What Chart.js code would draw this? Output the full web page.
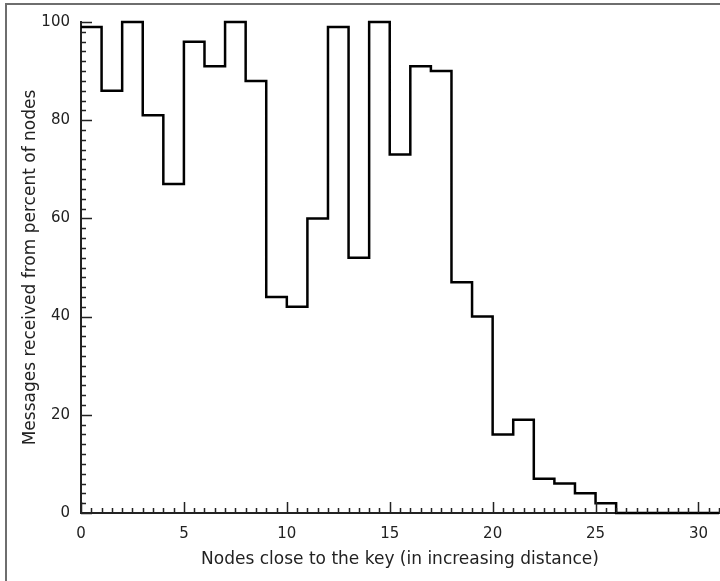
<!DOCTYPE html>
<html>
<head>
<meta charset="utf-8">
<script src="https://cdn.jsdelivr.net/npm/chart.js@4/dist/chart.umd.min.js"></script>
<style>
  html, body { margin: 0; padding: 0; background: #fff; overflow: hidden; }
  #wrap { position: relative; width: 720px; height: 581px; }
  #frame {
    position: absolute; left: 5px; top: 3px; width: 720px; height: 600px;
    border-left: 2px solid #6e6e6e; border-top: 2px solid #6e6e6e;
    pointer-events: none;
  }
</style>
</head>
<body>
<div id="wrap">
  <canvas id="myChart" width="720" height="581"></canvas>
  <div id="frame"></div>
</div>
<script>
// Percentage of nodes a message was received from, per node rank (0 = closest to the key)
const nodes = [0, 1, 2, 3, 4, 5, 6, 7, 8, 9, 10, 11, 12, 13, 14, 15,
               16, 17, 18, 19, 20, 21, 22, 23, 24, 25, 26, 27, 28, 29, 30];
const received = [99, 86, 100, 81, 67, 96, 91, 100, 88, 44, 42, 60, 99, 52, 100, 73,
                  91, 90, 47, 40, 16, 19, 7, 6, 4, 2, 0, 0, 0, 0, 0];

// Axis ticks
const xTicks = [0, 5, 10, 15, 20, 25, 30];
const yTicks = [0, 20, 40, 60, 80, 100];
const xMinorStep = 0.5;
const yMinorStep = 2;
const xMax = 31;

document.addEventListener('DOMContentLoaded', () => {
    const ctx = document.getElementById('myChart').getContext('2d');
    const tickFont = { family: 'DejaVu Sans', size: 15 };
    const titleFont = { family: 'DejaVu Sans', size: 17 };

    // one point per bin start, plus the closing edge of the last bin
    const points = nodes.map((n, i) => ({ x: n, y: received[i] }));
    points.push({ x: nodes[nodes.length - 1] + 1, y: received[received.length - 1] });

    // draws the small inward tick marks along both axes
    const inwardTicks = {
        id: 'inwardTicks',
        afterDatasetsDraw(chart) {
            const { ctx, scales: { x, y } } = chart;
            const area = chart.chartArea;
            ctx.save();
            ctx.strokeStyle = '#222';
            ctx.lineWidth = 1.5;
            ctx.beginPath();
            for (let v = 0; v <= 100 + 1e-9; v += yMinorStep) {
                const py = Math.round(y.getPixelForValue(v)) + 0.5;
                const len = yTicks.includes(v) ? 11 : 5;
                ctx.moveTo(area.left, py);
                ctx.lineTo(area.left + len, py);
            }
            for (let v = 0; v <= xMax + 1e-9; v += xMinorStep) {
                const px = Math.round(x.getPixelForValue(v)) + 0.5;
                const len = xTicks.includes(v) ? 11 : 5;
                ctx.moveTo(px, area.bottom);
                ctx.lineTo(px, area.bottom - len);
            }
            ctx.stroke();
            ctx.restore();
        }
    };

    new Chart(ctx, {
        type: 'line',
        data: {
            datasets: [{
                data: points,
                stepped: 'before', // hold each bin's value until the next bin edge
                borderColor: '#000',
                borderWidth: 2.5,
                pointRadius: 0,
                fill: false,
                clip: false
            }]
        },
        options: {
            responsive: false,
            animation: false,
            layout: { padding: { top: 22, right: 0, left: 0, bottom: 0 } },
            plugins: { legend: { display: false }, tooltip: { enabled: false } },
            scales: {
                x: {
                    type: 'linear',
                    min: 0,
                    max: xMax,
                    afterBuildTicks: (scale) => { scale.ticks = xTicks.map(v => ({ value: v })); },
                    afterFit: (scale) => { scale.height = 68; },
                    grid: { display: false, drawTicks: false },
                    border: { display: true, color: '#222', width: 2 },
                    ticks: { color: '#222', font: tickFont, padding: 12, maxRotation: 0, autoSkip: false },
                    title: {
                        display: true,
                        text: 'Nodes close to the key (in increasing distance)',
                        color: '#222',
                        font: titleFont,
                        align: 'center',
                        padding: { top: 4, bottom: 11 }
                    }
                },
                y: {
                    min: 0,
                    max: 100,
                    afterBuildTicks: (scale) => { scale.ticks = yTicks.map(v => ({ value: v })); },
                    afterFit: (scale) => { scale.width = 81; },
                    grid: { display: false, drawTicks: false },
                    border: { display: true, color: '#222', width: 2 },
                    ticks: { color: '#222', font: tickFont, padding: 11 },
                    title: {
                        display: true,
                        text: 'Messages received from percent of nodes',
                        color: '#222',
                        font: titleFont,
                        padding: { top: 20, bottom: 0 }
                    }
                }
            }
        },
        plugins: [inwardTicks]
    });
});
</script>
</body>
</html>
